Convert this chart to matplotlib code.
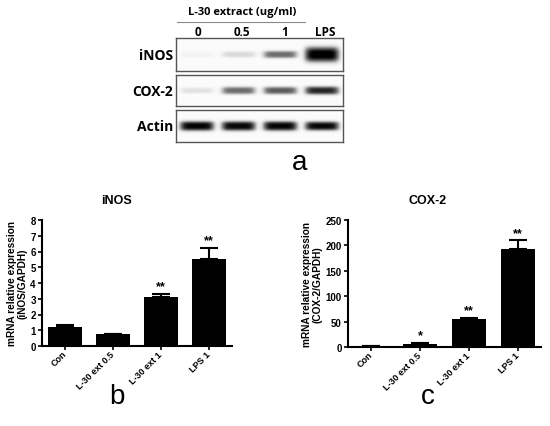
import matplotlib
matplotlib.use('Agg')
import matplotlib.pyplot as plt
import matplotlib.transforms as mtransforms
import numpy as np

W, H = 550, 427

# ---- data ----
groups = ['Con', 'L-30 ext 0.5', 'L-30 ext 1', 'LPS 1']
inos_mean = [1.18, 0.78, 3.11, 5.5]
inos_err = [0.18, 0.0, 0.2, 0.72]
inos_sig = ['', '', '**', '**']

cox_mean = [1.5, 6.6, 55, 192]
cox_err = [0.5, 2.0, 2.7, 18]
cox_sig = ['', '*', '**', '**']

lanes = ['0', '0.5', '1', 'LPS']
blot_rows = ['iNOS', 'COX-2', 'Actin']
# band darkness per lane (0 = none, 1 = saturated) and band thickness
band_inos = [0.07, 0.22, 0.62, 1.0]
band_cox = [0.18, 0.62, 0.68, 0.85]
band_actin = [0.97, 0.95, 0.96, 0.95]
thick_inos = [0.10, 0.10, 0.12, 0.24]
thick_cox = [0.10, 0.13, 0.13, 0.14]
thick_actin = [0.16, 0.16, 0.16, 0.15]

plt.rcParams['font.family'] = ['Liberation Sans', 'DejaVu Sans']

fig = plt.figure(figsize=(W / 100, H / 100), dpi=100)


def fx(x):
    return x / W


def fy(y):
    return 1 - y / H


def box(l, t, r, b):
    return [fx(l), fy(b), (r - l) / W, (b - t) / H]


# ---- western blot (panel a) ----
blot_font = ['Open Sans', 'DejaVu Sans']
row_boxes = [(176, 39, 343, 72), (176, 76, 343, 107), (176, 111, 343, 143)]
bands = [band_inos, band_cox, band_actin]
thicks = [thick_inos, thick_cox, thick_actin]

xs = np.linspace(-0.5, 3.5, 400)
ys = np.linspace(0, 1, 60)
X, Y = np.meshgrid(xs, ys)
for rb, name, inten, th in zip(row_boxes, blot_rows, bands, thicks):
    ax = fig.add_axes(box(*rb))
    img = np.zeros_like(X) + 0.03
    for i, (v, t) in enumerate(zip(inten, th)):
        img += v * np.exp(-(np.abs(X - i) / 0.42) ** 6) * np.exp(-np.abs((Y - 0.5) / t) ** 3)
    ax.imshow(np.clip(img, 0, 1), cmap='Greys', vmin=0, vmax=1, aspect='auto',
              extent=[-0.5, 3.5, 0, 1], origin='lower', interpolation='bilinear')
    ax.set_xlim(-0.5, 3.5)
    ax.set_ylim(0, 1)
    ax.set_xticks([])
    ax.set_yticks([])
    for s in ax.spines.values():
        s.set_color('#555555')
        s.set_linewidth(1.0)
    fig.text(fx(173), fy((rb[1] + rb[3]) / 2), name, ha='right', va='center',
             fontsize=10, fontweight='bold', family=blot_font)

lane_x = [198, 242, 285, 325]
for lx, lab in zip(lane_x, lanes):
    fig.text(fx(lx), fy(32), lab, ha='center', va='center', fontsize=8.5,
             fontweight='bold', family=blot_font)
fig.text(fx(242), fy(12), 'L-30 extract (ug/ml)', ha='center', va='center',
         fontsize=8, fontweight='bold', family=blot_font)
fig.add_artist(plt.Line2D([fx(177), fx(305)], [fy(23), fy(23)], color='#888888', lw=0.8))
fig.text(fx(300), fy(163), 'a', ha='center', va='center', fontsize=20)


# ---- bar charts ----
def bar_panel(rect, means, errs, sigs, ylim, yticks, title, ylabel, letter, lx):
    ax = fig.add_axes(rect)
    x = np.arange(len(groups))
    ax.bar(x, means, width=0.7, color='black', zorder=2)
    ax.errorbar(x, means, yerr=[np.zeros(len(errs)), errs], fmt='none',
                ecolor='black', elinewidth=1.5, capsize=6.5, capthick=1.5, zorder=1)
    for xi, m, e, s in zip(x, means, errs, sigs):
        if s:
            ax.annotate(s, (xi, m + e), xytext=(0, 1), textcoords='offset points',
                        ha='center', va='bottom', fontsize=9, fontweight='bold')
    ax.set_xlim(-0.48, 3.48)
    ax.set_ylim(*ylim)
    ax.set_yticks(yticks)
    ax.set_xticks(x)
    ax.set_xticklabels(groups, rotation=45, ha='right', va='center',
                       rotation_mode='anchor', fontsize=6.5, fontweight='bold')
    shift = mtransforms.ScaledTranslation(5 / 100, -6 / 100, fig.dpi_scale_trans)
    for lab in ax.get_xticklabels():
        lab.set_transform(lab.get_transform() + shift)
    for lab in ax.get_yticklabels():
        lab.set_fontsize(7)
        lab.set_fontweight('bold')
    ax.tick_params(direction='out', length=3, width=1.2, pad=1.5)
    ax.spines['top'].set_visible(False)
    ax.spines['right'].set_visible(False)
    ax.spines['left'].set_linewidth(1.5)
    ax.spines['bottom'].set_linewidth(1.5)
    ax.set_ylabel(ylabel, fontsize=7.3, fontweight='bold', labelpad=2, linespacing=1.05)
    fig.text(fx(lx), fy(201), title, ha='center', va='center', fontsize=9,
             fontweight='bold')
    fig.text(fx(lx), fy(397), letter, ha='center', va='center', fontsize=20)
    return ax


bar_panel(box(42, 221, 232, 347), inos_mean, inos_err, inos_sig, (0, 8),
          range(0, 9), 'iNOS', 'mRNA relative expression\n(iNOS/GAPDH)', 'b', 117)
bar_panel(box(348, 221, 541, 348), cox_mean, cox_err, cox_sig, (0, 250),
          range(0, 251, 50), 'COX-2', 'mRNA relative expression\n(COX-2/GAPDH)', 'c', 428)

fig.savefig('out.png', dpi=100)
